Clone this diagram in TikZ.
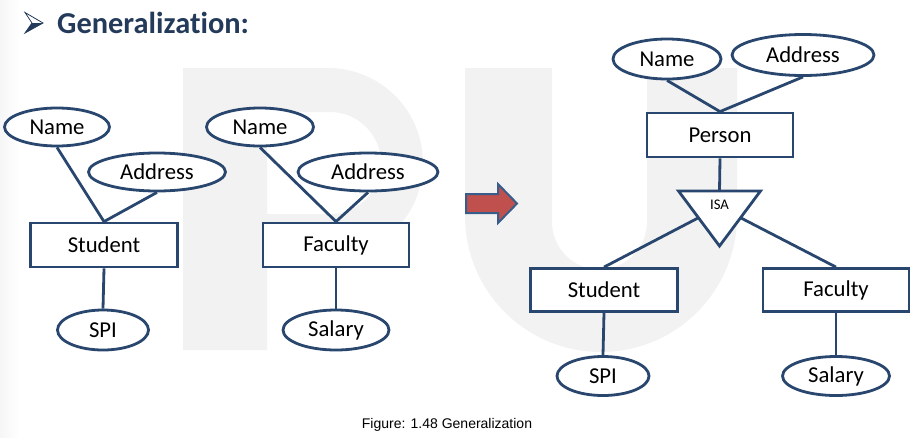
\documentclass[tikz,border=0pt]{standalone}
\usepackage{fontspec}
\setmainfont{Carlito}[Ligatures=NoCommon]
\newfontfamily\capfont{Liberation Sans}
\usetikzlibrary{shapes.geometric}
\definecolor{erblue}{RGB}{41,70,110}
\definecolor{titleblue}{RGB}{36,58,90}
\definecolor{wm}{RGB}{242,242,242}
\definecolor{arrred}{RGB}{192,80,77}
\definecolor{arrblue}{RGB}{56,93,138}
\begin{document}
\begin{tikzpicture}[x=1pt,y=-1pt,
  base/.style={draw=erblue, line width=2.8pt, fill=white, inner sep=0pt, text=black,
    font=\fontsize{22.7}{27}\selectfont},
  ent/.style={base, rectangle},
  attr/.style={base, ellipse},
  conn/.style={draw=erblue, line width=2.8pt},
]
\useasboundingbox (0,0) rectangle (915,437);
% background
\shade[left color=gray!7, right color=white] (0,0) rectangle (20,437);
% watermark P
\fill[wm, even odd rule]
  (183,68) -- (328,68) arc[start angle=-90, end angle=90, radius=95]
  -- (267,258) -- (267,350) -- (183,350) -- cycle
  (267,112) -- (330,112) arc[start angle=-90, end angle=90, radius=51]
  -- (267,214) -- cycle;
% watermark U
\fill[wm] (465,68) -- (552,68) -- (552,222)
  arc[start angle=180, end angle=0, radius=47.5]
  -- (647,68) -- (737,68) -- (737,216)
  arc[start angle=0, end angle=180, radius=136] -- cycle;

% title
\fill[titleblue] (32,23) -- (43,23) -- (25,33) -- cycle;
\draw[titleblue, line width=0.8pt, line join=miter] (25,12.5) -- (43,23) -- (25,33) -- (32,23) -- cycle;
\node[anchor=base west, inner sep=0pt, font=\bfseries\fontsize{30.4}{34}\selectfont,
  text=titleblue] (title) at (57,33) {Generalization:};

% left diagram: Student
\node[attr, minimum width=105pt, minimum height=38pt] (name1) at (57,127) {Name};
\node[attr, minimum width=137pt, minimum height=38pt] (addr1) at (157,172) {Address};
\node[ent, minimum width=147pt, minimum height=44pt] (stud1) at (104,245) {Student};
\node[attr, minimum width=91pt, minimum height=40pt] (spi1) at (103,330) {SPI};
\draw[conn] (name1.south) -- (stud1.north);
\draw[conn] (addr1.south) -- (stud1.north);
\draw[conn] (stud1.south) -- (spi1.north);

% left diagram: Faculty
\node[attr, minimum width=107pt, minimum height=38pt] (name2) at (260,127) {Name};
\node[attr, minimum width=140pt, minimum height=38pt] (addr2) at (368,172) {Address};
\node[ent, minimum width=146pt, minimum height=44pt] (fac1) at (336,245) {Faculty};
\node[attr, minimum width=106pt, minimum height=40pt] (sal1) at (336,330) {Salary};
\draw[conn] (name2.south) -- (fac1.north);
\draw[conn] (addr2.south) -- (fac1.north);
\draw[conn] (fac1.south) -- (sal1.north);

% arrow
\draw[fill=arrred, draw=arrblue, line width=2pt, line join=miter]
  (466,194) -- (498,194) -- (498,184) -- (517,203.5) -- (498,223) -- (498,213) -- (466,213) -- cycle;

% right diagram
\node[attr, minimum width=108pt, minimum height=40pt] (name3) at (667,59) {Name};
\node[attr, minimum width=142pt, minimum height=41pt] (addr3) at (803,55) {Address};
\node[ent, minimum width=146pt, minimum height=44pt] (person) at (720,135) {Person};
\draw[conn] (name3.south) -- (person.north);
\draw[conn] (addr3.south) -- (person.north);

\draw[conn, fill=white, line join=miter] (678.5,191) -- (760.5,191) -- (719.5,246) -- cycle;
\coordinate (isatop) at (719.5,191);
\coordinate (isaleft) at (698,218);
\coordinate (isaright) at (741,218);
\node[inner sep=0pt, font=\fontsize{14.7}{16}\selectfont] (isa) at (719.5,205) {ISA};
\draw[conn] (person.south) -- (isatop);

\node[ent, minimum width=147pt, minimum height=43pt] (stud2) at (604,290) {Student};
\node[ent, minimum width=146pt, minimum height=43pt] (fac2) at (836,290) {Faculty};
\node[attr, minimum width=92pt, minimum height=39pt] (spi2) at (603,376) {SPI};
\node[attr, minimum width=107pt, minimum height=39pt] (sal2) at (836,376) {Salary};
\draw[conn] (isaleft) -- (stud2.north);
\draw[conn] (isaright) -- (fac2.north);
\draw[conn] (stud2.south) -- (spi2.north);
\draw[conn] (fac2.south) -- (sal2.north);

% caption
\node[anchor=base, inner sep=0pt, font=\capfont\fontsize{14}{16}\selectfont] (cap) at (447,428)
  {Figure: 1.48 Generalization};
\end{tikzpicture}
\end{document}
